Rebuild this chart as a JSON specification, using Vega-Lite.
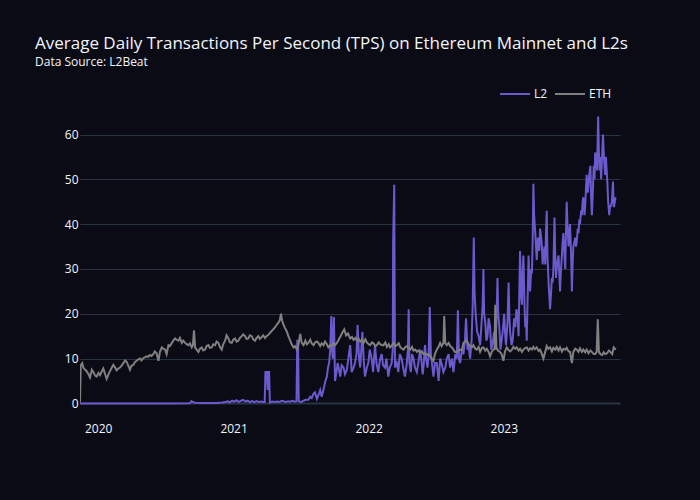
{
"$schema": "https://vega.github.io/schema/vega-lite/v6.json",
"width": 540, "height": 320,
"autosize": {"type": "none"},
"padding": {"left": 80, "top": 100, "right": 80, "bottom": 80},
"background": "#0b0b15",
"config": {"view": {"stroke": null}, "font": "Open Sans"},
"title": {"text": "Average Daily Transactions Per Second (TPS) on Ethereum Mainnet and L2s", "subtitle": "Data Source: L2Beat", "anchor": "start", "frame": "group", "dx": -45, "offset": 9.5, "font": "Open Sans", "fontSize": 17, "fontWeight": "normal", "color": "#f2f5fa", "subtitleFont": "Open Sans", "subtitleFontSize": 12, "subtitleColor": "#f2f5fa", "subtitlePadding": 4},
"encoding": {
  "x": {"field": "d", "type": "temporal", "scale": {"domain": [{"year": 2019, "month": 11, "date": 13}, {"year": 2023, "month": 11, "date": 11}]},
        "axis": {"title": null, "format": "%Y", "values": [{"year": 2020, "month": 1, "date": 1}, {"year": 2021, "month": 1, "date": 1}, {"year": 2022, "month": 1, "date": 1}, {"year": 2023, "month": 1, "date": 1}], "grid": false, "domain": false, "ticks": false, "tickSize": 0, "labelColor": "#f2f5fa", "labelFontSize": 12, "labelFont": "Open Sans", "labelPadding": 3, "labelFlush": false}},
  "y": {"field": "v", "type": "quantitative", "scale": {"domain": [-3.7, 67.7], "nice": false, "zero": false},
        "axis": {"title": null, "values": [0, 10, 20, 30, 40, 50, 60], "domain": false, "ticks": false, "tickSize": 0, "gridColor": "#283442", "gridWidth": {"condition": {"test": "datum.value === 0", "value": 2}, "value": 1}, "labelColor": "#f2f5fa", "labelFontSize": 12, "labelFont": "Open Sans", "labelPadding": 2}}
},
"layer": [
{"data": {"format": {"parse": {"d": "date:'%Y-%j'"}}, "values": [
{"d":"2019-317","v":0},{"d":"2020-002","v":0},{"d":"2020-101","v":0},{"d":"2020-201","v":0},{"d":"2020-249","v":0.02},{"d":"2020-253","v":0.5},{"d":"2020-257","v":0.3},{"d":"2020-263","v":0.15},{"d":"2020-281","v":0.1},{"d":"2020-301","v":0.1},{"d":"2020-321","v":0.1},{"d":"2020-336","v":0.2},{"d":"2020-346","v":0.3},{"d":"2020-351","v":0.5},{"d":"2020-356","v":0.2},{"d":"2020-363","v":0.6},
{"d":"2021-003","v":0.4},{"d":"2021-009","v":0.7},{"d":"2021-015","v":0.3},{"d":"2021-021","v":0.6},{"d":"2021-027","v":0.8},{"d":"2021-033","v":0.4},{"d":"2021-039","v":0.6},{"d":"2021-045","v":0.3},{"d":"2021-051","v":0.5},{"d":"2021-057","v":0.3},{"d":"2021-063","v":0.5},{"d":"2021-069","v":0.3},{"d":"2021-075","v":0.4},{"d":"2021-081","v":0.3},{"d":"2021-085","v":0.3},{"d":"2021-087","v":7.0},{"d":"2021-091","v":7.0},{"d":"2021-093","v":3.0},{"d":"2021-095","v":7.0},{"d":"2021-097","v":7.0},{"d":"2021-099","v":0.2},{"d":"2021-105","v":0.4},{"d":"2021-111","v":0.3},{"d":"2021-118","v":0.4},{"d":"2021-125","v":0.3},{"d":"2021-131","v":0.6},{"d":"2021-136","v":0.5},{"d":"2021-142","v":0.3},{"d":"2021-148","v":0.5},{"d":"2021-154","v":0.4},{"d":"2021-160","v":0.6},{"d":"2021-166","v":0.4},{"d":"2021-171","v":0.5},{"d":"2021-173","v":14.0},{"d":"2021-175","v":14.0},{"d":"2021-177","v":0.5},{"d":"2021-183","v":0.3},{"d":"2021-190","v":0.6},{"d":"2021-196","v":0.8},{"d":"2021-203","v":0.8},{"d":"2021-208","v":1.5},{"d":"2021-212","v":1.2},{"d":"2021-217","v":2.2},{"d":"2021-221","v":2.5},{"d":"2021-226","v":1.0},{"d":"2021-231","v":2.0},{"d":"2021-235","v":3.0},{"d":"2021-239","v":1.5},{"d":"2021-245","v":3.5},{"d":"2021-249","v":5.0},{"d":"2021-253","v":6.0},{"d":"2021-256","v":8},{"d":"2021-259","v":9.0},{"d":"2021-262","v":12},{"d":"2021-265","v":19.5},{"d":"2021-267","v":12},{"d":"2021-269","v":10},{"d":"2021-272","v":19.3},{"d":"2021-275","v":5.0},{"d":"2021-279","v":7},{"d":"2021-282","v":9.0},{"d":"2021-286","v":7.5},{"d":"2021-289","v":6.0},{"d":"2021-293","v":8.5},{"d":"2021-298","v":8.0},{"d":"2021-302","v":6.5},{"d":"2021-307","v":7.5},{"d":"2021-311","v":10},{"d":"2021-316","v":13.0},{"d":"2021-320","v":7.0},{"d":"2021-325","v":8},{"d":"2021-329","v":9.0},{"d":"2021-333","v":11},{"d":"2021-336","v":17.5},{"d":"2021-340","v":10},{"d":"2021-343","v":8.0},{"d":"2021-346","v":12},{"d":"2021-349","v":16.0},{"d":"2021-353","v":9},{"d":"2021-356","v":6.0},{"d":"2021-361","v":8},{"d":"2021-365","v":9.0},
{"d":"2022-004","v":12},{"d":"2022-009","v":10.0},{"d":"2022-013","v":7},{"d":"2022-018","v":13.0},{"d":"2022-022","v":9},{"d":"2022-027","v":7.0},{"d":"2022-031","v":9.5},{"d":"2022-036","v":11.0},{"d":"2022-040","v":8.5},{"d":"2022-045","v":8.0},{"d":"2022-049","v":10},{"d":"2022-054","v":6.0},{"d":"2022-058","v":8},{"d":"2022-063","v":9.0},{"d":"2022-066","v":12},{"d":"2022-067","v":36.0},{"d":"2022-070","v":48.8},{"d":"2022-072","v":8.0},{"d":"2022-076","v":9.5},{"d":"2022-081","v":7.0},{"d":"2022-085","v":11},{"d":"2022-090","v":10.0},{"d":"2022-094","v":8},{"d":"2022-099","v":6.0},{"d":"2022-104","v":9},{"d":"2022-107","v":12},{"d":"2022-109","v":21.0},{"d":"2022-111","v":9},{"d":"2022-115","v":7.0},{"d":"2022-118","v":11},{"d":"2022-122","v":10.0},{"d":"2022-126","v":8},{"d":"2022-131","v":7.0},{"d":"2022-135","v":9},{"d":"2022-140","v":12.0},{"d":"2022-143","v":10},{"d":"2022-147","v":6.5},{"d":"2022-150","v":9},{"d":"2022-153","v":13.0},{"d":"2022-156","v":10},{"d":"2022-160","v":8.0},{"d":"2022-163","v":11},{"d":"2022-166","v":21.5},{"d":"2022-169","v":11},{"d":"2022-172","v":9.0},{"d":"2022-176","v":6.0},{"d":"2022-180","v":9},{"d":"2022-185","v":9.0},{"d":"2022-190","v":5.0},{"d":"2022-194","v":10.0},{"d":"2022-199","v":8.5},{"d":"2022-203","v":7.0},{"d":"2022-208","v":8.0},{"d":"2022-212","v":10.0},{"d":"2022-217","v":11.0},{"d":"2022-221","v":8.0},{"d":"2022-226","v":10},{"d":"2022-230","v":7.0},{"d":"2022-235","v":11.0},{"d":"2022-239","v":10},{"d":"2022-242","v":20.8},{"d":"2022-245","v":10},{"d":"2022-248","v":9.0},{"d":"2022-253","v":12},{"d":"2022-257","v":11.0},{"d":"2022-261","v":14},{"d":"2022-264","v":19.0},{"d":"2022-268","v":12},{"d":"2022-271","v":13.0},{"d":"2022-275","v":10.0},{"d":"2022-279","v":14},{"d":"2022-282","v":22},{"d":"2022-285","v":37.0},{"d":"2022-287","v":25},{"d":"2022-290","v":20.0},{"d":"2022-294","v":16},{"d":"2022-298","v":15.0},{"d":"2022-302","v":13.0},{"d":"2022-306","v":18},{"d":"2022-309","v":22},{"d":"2022-311","v":30.0},{"d":"2022-313","v":20},{"d":"2022-316","v":18.0},{"d":"2022-319","v":14},{"d":"2022-322","v":15.0},{"d":"2022-325","v":19},{"d":"2022-329","v":17.0},{"d":"2022-332","v":12},{"d":"2022-336","v":13.5},{"d":"2022-340","v":16},{"d":"2022-343","v":12.0},{"d":"2022-346","v":18},{"d":"2022-349","v":28.0},{"d":"2022-351","v":20},{"d":"2022-354","v":17.0},{"d":"2022-357","v":12},{"d":"2022-360","v":14.0},{"d":"2022-363","v":16},
{"d":"2023-002","v":20.0},{"d":"2023-005","v":15},{"d":"2023-007","v":13.0},{"d":"2023-011","v":18},{"d":"2023-014","v":27.0},{"d":"2023-016","v":20},{"d":"2023-018","v":16.0},{"d":"2023-022","v":13},{"d":"2023-025","v":14.0},{"d":"2023-029","v":19},{"d":"2023-032","v":17.0},{"d":"2023-035","v":21},{"d":"2023-038","v":20.0},{"d":"2023-041","v":15},{"d":"2023-043","v":25},{"d":"2023-045","v":34.0},{"d":"2023-048","v":24},{"d":"2023-050","v":22.0},{"d":"2023-052","v":29},{"d":"2023-054","v":33.0},{"d":"2023-057","v":22},{"d":"2023-059","v":17.0},{"d":"2023-061","v":19},{"d":"2023-063","v":14.0},{"d":"2023-065","v":22},{"d":"2023-068","v":33.0},{"d":"2023-070","v":27},{"d":"2023-072","v":25.0},{"d":"2023-075","v":30},{"d":"2023-077","v":29.0},{"d":"2023-079","v":36},{"d":"2023-081","v":49.0},{"d":"2023-083","v":42},{"d":"2023-086","v":38.0},{"d":"2023-088","v":35},{"d":"2023-090","v":32.0},{"d":"2023-093","v":37},{"d":"2023-095","v":36.0},{"d":"2023-097","v":34},{"d":"2023-099","v":39.0},{"d":"2023-102","v":37},{"d":"2023-104","v":35.0},{"d":"2023-106","v":31},{"d":"2023-108","v":33.0},{"d":"2023-111","v":35},{"d":"2023-113","v":31.0},{"d":"2023-115","v":38},{"d":"2023-117","v":43.0},{"d":"2023-119","v":33},{"d":"2023-122","v":27.0},{"d":"2023-124","v":24},{"d":"2023-126","v":21.0},{"d":"2023-129","v":25},{"d":"2023-131","v":28.0},{"d":"2023-133","v":27},{"d":"2023-135","v":30.0},{"d":"2023-138","v":41.5},{"d":"2023-140","v":33},{"d":"2023-142","v":28.0},{"d":"2023-145","v":31},{"d":"2023-149","v":33.0},{"d":"2023-151","v":29},{"d":"2023-153","v":25.0},{"d":"2023-155","v":29},{"d":"2023-158","v":33.0},{"d":"2023-160","v":36},{"d":"2023-162","v":38.0},{"d":"2023-165","v":33},{"d":"2023-167","v":30.0},{"d":"2023-169","v":38},{"d":"2023-171","v":45.0},{"d":"2023-173","v":40},{"d":"2023-176","v":35.0},{"d":"2023-178","v":38},{"d":"2023-180","v":40.0},{"d":"2023-183","v":33},{"d":"2023-185","v":25.0},{"d":"2023-187","v":31},{"d":"2023-189","v":35.0},{"d":"2023-192","v":36},{"d":"2023-194","v":37.0},{"d":"2023-196","v":35},{"d":"2023-198","v":36.0},{"d":"2023-201","v":39},{"d":"2023-203","v":38.0},{"d":"2023-205","v":41},{"d":"2023-207","v":40.0},{"d":"2023-210","v":43},{"d":"2023-212","v":42.0},{"d":"2023-214","v":45},{"d":"2023-216","v":46.0},{"d":"2023-219","v":42},{"d":"2023-221","v":44.0},{"d":"2023-223","v":48},{"d":"2023-225","v":51.0},{"d":"2023-228","v":47},{"d":"2023-230","v":49.0},{"d":"2023-232","v":51},{"d":"2023-235","v":53.0},{"d":"2023-237","v":46},{"d":"2023-239","v":42.0},{"d":"2023-242","v":48},{"d":"2023-244","v":53.0},{"d":"2023-246","v":50},{"d":"2023-248","v":56.0},{"d":"2023-251","v":54},{"d":"2023-253","v":52.0},{"d":"2023-256","v":64.0},{"d":"2023-258","v":56},{"d":"2023-260","v":52.0},{"d":"2023-262","v":55},{"d":"2023-264","v":50.0},{"d":"2023-267","v":56},{"d":"2023-269","v":60.0},{"d":"2023-271","v":56},{"d":"2023-273","v":53.0},{"d":"2023-275","v":51},{"d":"2023-277","v":55.0},{"d":"2023-279","v":52},{"d":"2023-281","v":49.0},{"d":"2023-283","v":45},{"d":"2023-286","v":42.0},{"d":"2023-288","v":44},{"d":"2023-290","v":44.0},{"d":"2023-293","v":45},{"d":"2023-296","v":49.5},{"d":"2023-298","v":44},{"d":"2023-299","v":44.0},{"d":"2023-301","v":45},{"d":"2023-303","v":46.0}
]},
 "mark": {"type": "line", "strokeWidth": 2, "clip": true},
 "encoding": {"color": {"datum": "L2", "scale": {"domain": ["L2", "ETH"], "range": ["#6a5acd", "#808080"]},
   "legend": {"title": null, "orient": "none", "legendX": 419, "legendY": -22, "direction": "horizontal", "symbolType": "stroke", "symbolSize": 900, "symbolStrokeWidth": 2, "labelOffset": 3, "columnPadding": 3, "labelFontSize": 12, "labelFont": "Open Sans", "labelColor": "#f2f5fa", "padding": 0}}}
},
{"data": {"format": {"parse": {"d": "date:'%Y-%j'"}}, "values": [
{"d":"2019-317","v":0.2},{"d":"2019-319","v":8.5},{"d":"2019-323","v":9},{"d":"2019-326","v":8.0},{"d":"2019-331","v":7.5},{"d":"2019-335","v":7.2},{"d":"2019-340","v":6.5},{"d":"2019-344","v":5.8},{"d":"2019-349","v":7.5},{"d":"2019-353","v":7.0},{"d":"2019-358","v":6.2},{"d":"2019-362","v":6.0},
{"d":"2020-002","v":6.8},{"d":"2020-006","v":6.3},{"d":"2020-011","v":7.2},{"d":"2020-015","v":7.8},{"d":"2020-020","v":6.5},{"d":"2020-024","v":5.5},{"d":"2020-029","v":6.5},{"d":"2020-033","v":7.2},{"d":"2020-038","v":8.0},{"d":"2020-042","v":8.6},{"d":"2020-047","v":8.0},{"d":"2020-051","v":7.4},{"d":"2020-056","v":7.8},{"d":"2020-060","v":8.0},{"d":"2020-065","v":8.5},{"d":"2020-069","v":9.0},{"d":"2020-074","v":9.6},{"d":"2020-078","v":9.3},{"d":"2020-083","v":8.3},{"d":"2020-087","v":7.5},{"d":"2020-091","v":8.4},{"d":"2020-096","v":8.6},{"d":"2020-100","v":9.2},{"d":"2020-105","v":9.5},{"d":"2020-109","v":9.8},{"d":"2020-114","v":10.0},{"d":"2020-118","v":9.6},{"d":"2020-123","v":10.1},{"d":"2020-127","v":10.3},{"d":"2020-132","v":10.5},{"d":"2020-136","v":10.4},{"d":"2020-141","v":10.8},{"d":"2020-145","v":10.6},{"d":"2020-150","v":11.0},{"d":"2020-154","v":11.6},{"d":"2020-159","v":11.2},{"d":"2020-164","v":9.5},{"d":"2020-168","v":11.5},{"d":"2020-173","v":12.5},{"d":"2020-177","v":12.2},{"d":"2020-182","v":12.0},{"d":"2020-186","v":11.0},{"d":"2020-191","v":13.0},{"d":"2020-195","v":12.8},{"d":"2020-200","v":13.5},{"d":"2020-204","v":14.0},{"d":"2020-209","v":14.5},{"d":"2020-213","v":14.2},{"d":"2020-218","v":14.0},{"d":"2020-222","v":14.6},{"d":"2020-227","v":13.5},{"d":"2020-231","v":14.0},{"d":"2020-236","v":13.5},{"d":"2020-240","v":13.2},{"d":"2020-245","v":13.0},{"d":"2020-249","v":13.4},{"d":"2020-254","v":12.5},{"d":"2020-257","v":13.0},{"d":"2020-260","v":16.3},{"d":"2020-263","v":12.5},{"d":"2020-267","v":12.0},{"d":"2020-272","v":11.5},{"d":"2020-276","v":12.2},{"d":"2020-281","v":12.5},{"d":"2020-285","v":11.8},{"d":"2020-290","v":12.0},{"d":"2020-294","v":12.8},{"d":"2020-299","v":13.0},{"d":"2020-303","v":12.4},{"d":"2020-308","v":12.5},{"d":"2020-312","v":13.2},{"d":"2020-317","v":13.0},{"d":"2020-321","v":13.8},{"d":"2020-326","v":13.5},{"d":"2020-330","v":12.6},{"d":"2020-335","v":12.0},{"d":"2020-339","v":13.2},{"d":"2020-344","v":14.0},{"d":"2020-348","v":15.2},{"d":"2020-353","v":14.5},{"d":"2020-357","v":13.6},{"d":"2020-362","v":13.5},{"d":"2020-366","v":14.2},
{"d":"2021-005","v":14.5},{"d":"2021-009","v":13.8},{"d":"2021-014","v":14.0},{"d":"2021-018","v":14.6},{"d":"2021-023","v":15.0},{"d":"2021-027","v":15.4},{"d":"2021-032","v":15.0},{"d":"2021-036","v":14.4},{"d":"2021-041","v":14.5},{"d":"2021-045","v":15.2},{"d":"2021-050","v":15.0},{"d":"2021-054","v":14.3},{"d":"2021-059","v":14.0},{"d":"2021-063","v":14.6},{"d":"2021-068","v":15.0},{"d":"2021-072","v":14.4},{"d":"2021-077","v":14.8},{"d":"2021-081","v":15.2},{"d":"2021-086","v":14.6},{"d":"2021-090","v":15.0},{"d":"2021-095","v":15.3},{"d":"2021-100","v":15.8},{"d":"2021-104","v":16.2},{"d":"2021-109","v":16.6},{"d":"2021-113","v":17.0},{"d":"2021-118","v":17.6},{"d":"2021-122","v":18.0},{"d":"2021-126","v":18.6},{"d":"2021-129","v":20.0},{"d":"2021-132","v":18.5},{"d":"2021-136","v":17.5},{"d":"2021-140","v":16.8},{"d":"2021-145","v":16.0},{"d":"2021-149","v":15.0},{"d":"2021-154","v":14.0},{"d":"2021-158","v":13.2},{"d":"2021-163","v":12.5},{"d":"2021-167","v":12.8},{"d":"2021-172","v":12.0},{"d":"2021-176","v":13.0},{"d":"2021-181","v":15.5},{"d":"2021-185","v":13.5},{"d":"2021-190","v":13.0},{"d":"2021-195","v":14.0},{"d":"2021-199","v":13.2},{"d":"2021-203","v":13.5},{"d":"2021-208","v":14.2},{"d":"2021-212","v":13.4},{"d":"2021-217","v":13.0},{"d":"2021-221","v":13.6},{"d":"2021-226","v":13.8},{"d":"2021-230","v":13.5},{"d":"2021-235","v":12.8},{"d":"2021-239","v":13.4},{"d":"2021-244","v":13.0},{"d":"2021-248","v":13.8},{"d":"2021-253","v":13.2},{"d":"2021-257","v":12.5},{"d":"2021-262","v":13.0},{"d":"2021-266","v":12.8},{"d":"2021-271","v":13.4},{"d":"2021-275","v":13.0},{"d":"2021-280","v":13.5},{"d":"2021-285","v":14.2},{"d":"2021-290","v":15.0},{"d":"2021-295","v":15.8},{"d":"2021-300","v":16.5},{"d":"2021-305","v":15.2},{"d":"2021-310","v":15.6},{"d":"2021-316","v":14.5},{"d":"2021-321","v":14.8},{"d":"2021-325","v":14.2},{"d":"2021-330","v":14.6},{"d":"2021-334","v":14.0},{"d":"2021-339","v":14.4},{"d":"2021-343","v":13.8},{"d":"2021-348","v":14.2},{"d":"2021-352","v":13.5},{"d":"2021-357","v":14.3},{"d":"2021-361","v":13.6},
{"d":"2022-001","v":13.2},{"d":"2022-005","v":13.0},{"d":"2022-010","v":13.6},{"d":"2022-014","v":13.4},{"d":"2022-019","v":12.8},{"d":"2022-023","v":13.0},{"d":"2022-028","v":13.6},{"d":"2022-032","v":13.2},{"d":"2022-037","v":13.0},{"d":"2022-041","v":13.0},{"d":"2022-046","v":13.6},{"d":"2022-050","v":12.6},{"d":"2022-055","v":13.2},{"d":"2022-059","v":12.5},{"d":"2022-064","v":13.0},{"d":"2022-068","v":13.5},{"d":"2022-073","v":12.8},{"d":"2022-077","v":13.0},{"d":"2022-082","v":13.4},{"d":"2022-086","v":12.6},{"d":"2022-091","v":12.2},{"d":"2022-095","v":12.0},{"d":"2022-100","v":12.6},{"d":"2022-104","v":12.8},{"d":"2022-109","v":12.2},{"d":"2022-113","v":12.0},{"d":"2022-118","v":12.6},{"d":"2022-122","v":11.8},{"d":"2022-127","v":12.0},{"d":"2022-131","v":11.5},{"d":"2022-136","v":11.8},{"d":"2022-140","v":11.3},{"d":"2022-145","v":11.6},{"d":"2022-149","v":11.0},{"d":"2022-154","v":11.2},{"d":"2022-158","v":10.8},{"d":"2022-163","v":11.0},{"d":"2022-167","v":10.5},{"d":"2022-171","v":10.0},{"d":"2022-176","v":9.5},{"d":"2022-180","v":11.0},{"d":"2022-185","v":12.0},{"d":"2022-189","v":12.5},{"d":"2022-194","v":13.5},{"d":"2022-198","v":12.8},{"d":"2022-203","v":13.5},{"d":"2022-205","v":19.5},{"d":"2022-208","v":13.4},{"d":"2022-212","v":13.0},{"d":"2022-217","v":13.5},{"d":"2022-221","v":12.8},{"d":"2022-226","v":12.5},{"d":"2022-230","v":12.0},{"d":"2022-234","v":11.5},{"d":"2022-239","v":11.5},{"d":"2022-243","v":11.8},{"d":"2022-248","v":12.0},{"d":"2022-253","v":12.0},{"d":"2022-257","v":13.5},{"d":"2022-262","v":13.8},{"d":"2022-266","v":14.0},{"d":"2022-271","v":13.2},{"d":"2022-275","v":12.8},{"d":"2022-280","v":12.5},{"d":"2022-284","v":13.0},{"d":"2022-289","v":12.2},{"d":"2022-293","v":12.0},{"d":"2022-298","v":12.6},{"d":"2022-302","v":11.5},{"d":"2022-307","v":12.4},{"d":"2022-311","v":12.5},{"d":"2022-316","v":11.8},{"d":"2022-320","v":12.2},{"d":"2022-325","v":11.5},{"d":"2022-329","v":10.5},{"d":"2022-334","v":11.6},{"d":"2022-338","v":12.0},{"d":"2022-341","v":12.2},{"d":"2022-343","v":22.0},{"d":"2022-346","v":12.5},{"d":"2022-350","v":11.8},{"d":"2022-356","v":11.5},{"d":"2022-360","v":11.0},{"d":"2022-365","v":9.5},
{"d":"2023-004","v":11.5},{"d":"2023-009","v":12.5},{"d":"2023-013","v":12.0},{"d":"2023-018","v":11.6},{"d":"2023-023","v":12.0},{"d":"2023-027","v":12.6},{"d":"2023-032","v":12.2},{"d":"2023-036","v":12.5},{"d":"2023-041","v":11.8},{"d":"2023-045","v":12.2},{"d":"2023-050","v":11.5},{"d":"2023-054","v":12.0},{"d":"2023-059","v":12.4},{"d":"2023-063","v":12.5},{"d":"2023-068","v":11.8},{"d":"2023-072","v":12.3},{"d":"2023-077","v":12.0},{"d":"2023-081","v":12.6},{"d":"2023-085","v":12.1},{"d":"2023-090","v":12.5},{"d":"2023-095","v":11.7},{"d":"2023-099","v":12.0},{"d":"2023-104","v":11.0},{"d":"2023-108","v":10.0},{"d":"2023-113","v":11.5},{"d":"2023-117","v":12.8},{"d":"2023-121","v":12.2},{"d":"2023-126","v":12.5},{"d":"2023-131","v":11.6},{"d":"2023-135","v":12.4},{"d":"2023-140","v":12.0},{"d":"2023-144","v":12.6},{"d":"2023-149","v":11.8},{"d":"2023-153","v":12.5},{"d":"2023-158","v":11.6},{"d":"2023-162","v":12.2},{"d":"2023-167","v":12.0},{"d":"2023-171","v":12.4},{"d":"2023-176","v":11.6},{"d":"2023-180","v":11.5},{"d":"2023-185","v":9.0},{"d":"2023-189","v":11.5},{"d":"2023-194","v":12.2},{"d":"2023-198","v":12.0},{"d":"2023-203","v":11.5},{"d":"2023-207","v":12.3},{"d":"2023-212","v":11.5},{"d":"2023-216","v":12.0},{"d":"2023-221","v":11.4},{"d":"2023-225","v":12.0},{"d":"2023-230","v":11.2},{"d":"2023-235","v":11.8},{"d":"2023-239","v":11.5},{"d":"2023-244","v":11.0},{"d":"2023-248","v":11.0},{"d":"2023-252","v":11.5},{"d":"2023-255","v":18.8},{"d":"2023-258","v":11.5},{"d":"2023-262","v":11.0},{"d":"2023-267","v":10.8},{"d":"2023-271","v":11.4},{"d":"2023-275","v":11.0},{"d":"2023-280","v":11.2},{"d":"2023-285","v":11.8},{"d":"2023-289","v":11.5},{"d":"2023-294","v":11.0},{"d":"2023-298","v":12.5},{"d":"2023-301","v":12.2},{"d":"2023-304","v":12.0}
]},
 "mark": {"type": "line", "strokeWidth": 2, "clip": true},
 "encoding": {"color": {"datum": "ETH"}}
}
]
}
